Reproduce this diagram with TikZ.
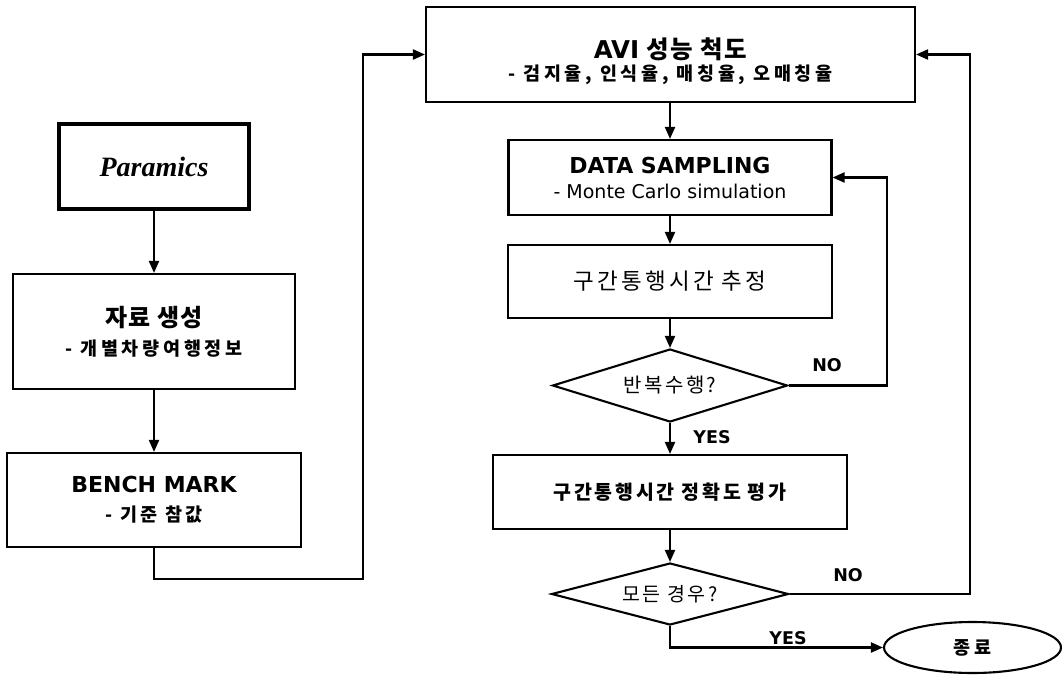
\documentclass[tikz,border=0pt]{standalone}
\usepackage{fontspec}
\setmainfont{DejaVu Sans}
\newfontfamily\kr{Noto Sans CJK KR}
\newfontfamily\tms{Liberation Serif}
\usetikzlibrary{shapes.geometric,arrows.meta}
\newcommand{\ksp}{\hspace{7pt}}
\begin{document}
\begin{tikzpicture}[x=1pt,y=-1pt,
  box/.style={draw, line width=2.1pt, inner sep=0pt, align=center},
  dia/.style={draw, diamond, line width=2.1pt, inner sep=0pt, shape aspect=3},
  conn/.style={line width=2.1pt, -{Triangle[length=12pt,width=10pt]}},
  lbl/.style={font=\fontsize{17.5}{20}\selectfont\bfseries, inner sep=0pt}]
\useasboundingbox[fill=white] (0,0) rectangle (1062,675);

% left column
\node[box, line width=4.4pt, minimum width=190pt, minimum height=85pt,
  font=\tms\fontsize{28}{32}\selectfont\bfseries\itshape] (para) at (154,166.5) {Paramics};
\node[box, minimum width=282pt, minimum height=115pt, font=\kr\fontsize{17}{29}\selectfont] (gen) at (154,331.5)
  {{\fontsize{24}{27}\selectfont\bfseries\addfontfeatures{LetterSpace=5}자료\ksp 생성}\\
   {\fontsize{18.5}{22}\selectfont\bfseries\addfontfeatures{LetterSpace=20}- 개별차량여행정보}};
\node[box, minimum width=294pt, minimum height=94pt, font=\fontsize{17}{29}\selectfont] (bench) at (154,500)
  {{\fontsize{22}{26}\selectfont\bfseries BENCH MARK}\\
   {\kr\fontsize{18.5}{22}\selectfont\bfseries\addfontfeatures{LetterSpace=20}- 기준\ksp 참값}};

% right column
\node[box, minimum width=489pt, minimum height=95pt] (avi) at (670.5,54.5) {};
\node[align=center, inner sep=0pt, font=\fontsize{17}{22}\selectfont] (avitxt) at ([yshift=-7pt]avi.center)
  {{\fontsize{24.5}{28}\selectfont\bfseries AVI\ksp{\kr\addfontfeatures{LetterSpace=8}성능\ksp 척도}}\\
   {\kr\fontsize{18.5}{22}\selectfont\bfseries\addfontfeatures{LetterSpace=20}- 검지율, 인식율, 매칭율, 오매칭율}};
\node[box, minimum width=323pt, minimum height=75pt, font=\fontsize{19}{25}\selectfont] (data) at (670,177.5)
  {{\fontsize{22}{26}\selectfont\bfseries DATA SAMPLING}\\
   - Monte Carlo simulation};
\node[box, minimum width=324pt, minimum height=73pt,
  font=\kr\fontsize{22.5}{26}\selectfont\addfontfeatures{LetterSpace=15}] (est) at (670,281.5) {구간통행시간\ksp 추정};
\node[dia, minimum width=235pt, minimum height=73pt,
  font=\kr\fontsize{20}{24}\selectfont\addfontfeatures{LetterSpace=12}] (d1) at (670,385.5) {반복수행?};
\node[box, minimum width=354pt, minimum height=74pt,
  font=\kr\fontsize{19.5}{23}\selectfont\bfseries\addfontfeatures{LetterSpace=14}] (eval) at (670,492) {구간통행시간\ksp 정확도\ksp 평가};
\node[dia, minimum width=237pt, minimum height=62pt,
  font=\kr\fontsize{19.5}{23}\selectfont\addfontfeatures{LetterSpace=12}] (d2) at (670,594) {모든\ksp 경우?};
\node[draw, ellipse, line width=2.1pt, inner sep=0pt, minimum width=177pt, minimum height=51pt,
  font=\kr\fontsize{18.5}{22}\selectfont\bfseries\addfontfeatures{LetterSpace=20}] (end) at (972.5,647.5) {종료};

% helper coordinates
\coordinate (c1) at (363,579);
\coordinate (n1) at (887,0);
\coordinate (n2) at (970,0);

% connectors
\draw[conn] (para) -- (gen);
\draw[conn] (gen) -- (bench);
\draw[conn] (bench.south) |- (c1) |- (avi.west);
\draw[conn] (avi.south -| data.north) -- (data.north);
\draw[conn] (data) -- (est);
\draw[conn] (est.south) -- (d1.north);
\draw[conn] (d1.east) -- (d1.east -| n1) |- (data.east);
\draw[conn] (d1.south) -- (eval.north);
\draw[conn] (eval.south) -- (d2.north);
\draw[conn] (d2.east) -- (d2.east -| n2) |- (avi.east);
\draw[conn] (d2.south) |- (end.west);

% labels
\node[lbl] (no1) at (827,365) {NO};
\node[lbl] (yes1) at (712,437) {YES};
\node[lbl] (no2) at (848,575) {NO};
\node[lbl] (yes2) at (788,638) {YES};
\end{tikzpicture}
\end{document}
